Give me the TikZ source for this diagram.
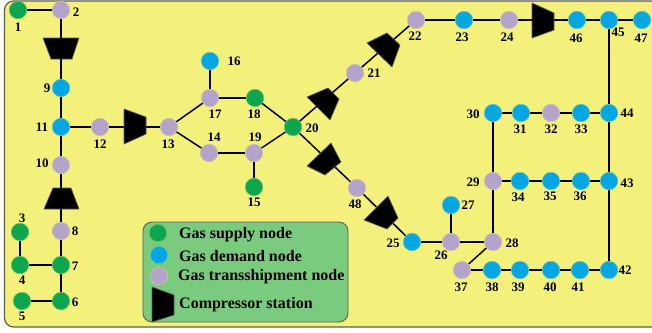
\documentclass[tikz,border=0pt]{standalone}
\usepackage{fontspec}
\setmainfont{Liberation Serif}
\definecolor{bgy}{HTML}{F3F17C}
\definecolor{frm}{HTML}{5E5E55}
\definecolor{leg}{HTML}{7BCB7E}
\definecolor{gsup}{HTML}{0DA64F}
\definecolor{gdem}{HTML}{05A7E2}
\definecolor{gtra}{HTML}{B4A3CB}
\tikzset{
  gas/.style={circle,minimum size=17.5pt,inner sep=0pt},
  sup/.style={gas,fill=gsup,draw=gsup!60!bgy,line width=.6pt},
  dem/.style={gas,fill=gdem,draw=gdem!60!bgy,line width=.6pt},
  tra/.style={gas,fill=gtra,draw=gtra!60!bgy,line width=.6pt},
  pipe/.style={draw=black,line width=1.5pt},
  comp/.style={fill=black,draw=black!65,line width=.7pt,line join=round},
  lab/.style={font=\fontsize{13}{14}\selectfont\bfseries,inner sep=0pt},
  legt/.style={font=\fontsize{16}{17}\selectfont\bfseries,inner sep=0pt,anchor=west}
}
\newcommand{\gn}[4]{\node[#1] (n#2) at (#3,#4) {};}
\newcommand{\lb}[3]{\node[lab] (l#1) at (#2,#3) {#1};}
\begin{document}
\begin{tikzpicture}[x=1pt,y=-1pt]
\useasboundingbox (0,0) rectangle (652,332);
\fill[white] (0,0) rectangle (652,332);
\draw[fill=bgy,draw=frm,line width=1.2pt,rounded corners=9pt] (4.5,1) rectangle (660,327);
\clip (0,0) rectangle (652,332);
% nodes
\gn{sup}{1}{18}{10}\gn{tra}{2}{61}{10}\gn{sup}{3}{20}{232}\gn{sup}{4}{20}{265}\gn{sup}{5}{22}{301}
\gn{sup}{6}{61}{301}\gn{sup}{7}{61}{265}\gn{tra}{8}{61}{231}\gn{dem}{9}{61}{88}\gn{tra}{10}{61}{165}
\gn{dem}{11}{61}{127}\gn{tra}{12}{100}{127}\gn{tra}{13}{169}{127}\gn{tra}{14}{209}{153}\gn{sup}{15}{254}{187}
\gn{dem}{16}{210}{61}\gn{tra}{17}{210}{98}\gn{sup}{18}{255}{98}\gn{tra}{19}{254}{153}\gn{sup}{20}{293}{127}
\gn{tra}{21}{355}{73}\gn{tra}{22}{416}{20}\gn{dem}{23}{464}{20}\gn{tra}{24}{509}{20}\gn{dem}{25}{412}{242}
\gn{tra}{26}{451}{242}\gn{dem}{27}{451}{205}\gn{tra}{28}{493}{242}\gn{tra}{29}{493}{181}\gn{dem}{30}{493}{113}
\gn{dem}{31}{521}{113}\gn{tra}{32}{551}{113}\gn{dem}{33}{581}{113}\gn{dem}{34}{520}{181}\gn{dem}{35}{551}{181}
\gn{dem}{36}{581}{181}\gn{tra}{37}{462}{270}\gn{dem}{38}{492}{270}\gn{dem}{39}{520}{270}\gn{dem}{40}{551}{270}
\gn{dem}{41}{580}{270}\gn{dem}{42}{609}{270}\gn{dem}{43}{609}{181}\gn{dem}{44}{609}{113}\gn{dem}{45}{609}{20}
\gn{dem}{46}{577}{20}\gn{dem}{47}{642}{20}\gn{tra}{48}{357}{188}
% pipes
\foreach \a/\b in {1/2,2/9,9/11,11/10,11/12,12/13,13/17,13/14,17/16,17/18,14/19,19/15,18/20,19/20,
  20/21,21/22,22/23,23/24,24/46,46/45,45/47,45/44,44/43,43/42,30/31,31/32,32/33,33/44,30/29,29/28,
  29/34,34/35,35/36,36/43,20/48,48/25,25/26,26/27,26/28,28/37,37/38,38/39,39/40,40/41,41/42,
  10/8,8/7,7/4,4/3,7/6,6/5}
  \draw[pipe] (n\a) -- (n\b);
% compressors
\draw[comp] (43,38) -- (79,38) -- (72,59) -- (51,59) -- cycle;
\draw[comp] (53,188) -- (71,188) -- (79,209) -- (44,209) -- cycle;
\draw[comp] (124,109) -- (146,117) -- (146,134) -- (124,144) -- cycle;
\draw[comp] (532,3) -- (554,13) -- (554,30) -- (532,38) -- cycle;
\draw[comp] (307,97) -- (328,88) -- (339,99) -- (330,120) -- cycle;
\draw[comp] (367,43) -- (387,33) -- (400,45) -- (392,67) -- cycle;
\draw[comp] (307,166) -- (331,143) -- (341,162) -- (325,175) -- cycle;
\draw[comp] (364,220) -- (388,196) -- (398,218) -- (387,229) -- cycle;
% labels
\lb{1}{18}{27}\lb{2}{76}{12}\lb{3}{22}{218}\lb{4}{22}{280}\lb{5}{22}{316}\lb{6}{75}{302}\lb{7}{75}{266}\lb{8}{75}{231}
\lb{9}{47}{88}\lb{10}{42}{163}\lb{11}{42}{127}\lb{12}{100}{144}\lb{13}{168}{144}\lb{14}{214}{137}\lb{15}{254}{202}
\lb{16}{234}{61}\lb{17}{215}{114}\lb{18}{254}{114}\lb{19}{255}{137}\lb{20}{312}{128}\lb{21}{374}{73}\lb{22}{415}{36}
\lb{23}{462}{37}\lb{24}{507}{37}\lb{25}{393}{243}\lb{26}{441}{255}\lb{27}{468}{205}\lb{28}{512}{243}\lb{29}{473}{182}
\lb{30}{473}{114}\lb{31}{520}{129}\lb{32}{551}{129}\lb{33}{581}{129}\lb{34}{518}{197}\lb{35}{550}{196}\lb{36}{580}{196}
\lb{37}{461}{287}\lb{38}{492}{287}\lb{39}{518}{287}\lb{40}{550}{287}\lb{41}{578}{287}\lb{42}{625}{270}\lb{43}{627}{183}
\lb{44}{627}{113}\lb{45}{618}{32}\lb{46}{576}{38}\lb{47}{641}{38}\lb{48}{355}{204}
% legend
\draw[fill=leg,draw=frm,line width=.9pt,rounded corners=9pt] (143,222) rectangle (348,322);
\node[sup] (ka) at (158,233) {};
\node[dem] (kb) at (159,255) {};
\node[tra] (kc) at (159,276) {};
\draw[comp] (152,287) -- (174,295) -- (174,315) -- (152,322) -- cycle;
\node[legt] (ta) at (179,235) {Gas supply node};
\node[legt] (tb) at (179,256) {Gas demand node};
\node[legt] (tc) at (178,277) {Gas transshipment node};
\node[legt] (td) at (179,305) {Compressor station};
\end{tikzpicture}
\end{document}
